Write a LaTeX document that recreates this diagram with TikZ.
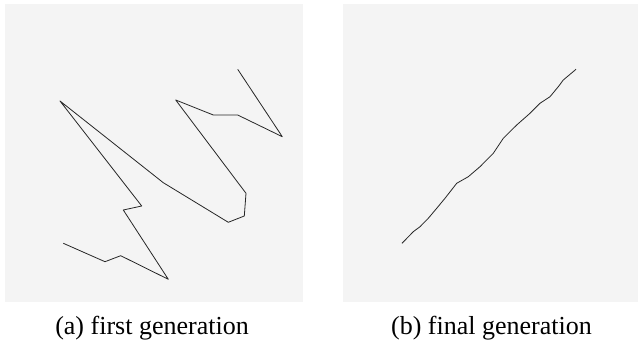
\documentclass[tikz,border=0pt]{standalone}
\usepackage{fontspec}
\setmainfont{Liberation Serif}
\begin{document}
\begin{tikzpicture}[x=1pt,y=-1pt,
  panel/.style={fill=panelgray,draw=none},
  track/.style={draw=black!85,line width=0.8pt,line join=round},
  captext/.style={font=\fontsize{26}{30}\selectfont,anchor=base,inner sep=0pt}]
\definecolor{panelgray}{HTML}{F4F4F4}
\useasboundingbox (0,0) rectangle (638,344);
\fill[white] (0,0) rectangle (638,344);
\path[panel] (5,4) rectangle (303,302);
\path[panel] (343,4) rectangle (638,302);
\draw[track] (237.7,69.3) -- (282.3,136.7) -- (237.7,115) -- (213.3,115) -- (175.7,100)
  -- (246,193.3) -- (244.3,216) -- (228.3,222.3) -- (163.3,182.7) -- (60,101)
  -- (141.7,206) -- (123.3,210) -- (168.3,279.3) -- (120.7,255.7) -- (105,261.7) -- (63.3,243.3);
\draw[track] (402,243.3) -- (413.3,231.7) -- (420,226.7) -- (428.3,218.3) -- (436.7,208.3)
  -- (445,198.3) -- (456.7,183.3) -- (468.3,176.7) -- (480,166.7) -- (493.3,153.3)
  -- (503.3,138.3) -- (516.7,125) -- (530,113.3) -- (540,103.3) -- (550,96.7)
  -- (558.3,86.7) -- (563.3,80) -- (576,69.3);
\node[captext] (capa) at (152,334.3) {(a) first generation};
\node[captext] (capb) at (491.5,334.3) {(b) final generation};
\end{tikzpicture}
\end{document}
